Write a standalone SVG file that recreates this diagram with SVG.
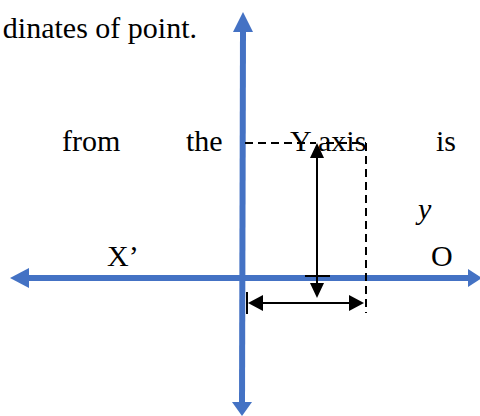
<svg xmlns="http://www.w3.org/2000/svg" width="480" height="416" viewBox="0 0 480 416">
<style>
.t{font-family:"Liberation Serif","Times New Roman",serif;font-size:30px;fill:#000}
.ax{stroke:#4472C4;stroke-width:6;fill:none}
.ah{fill:#4472C4}
.bk{stroke:#000;stroke-width:2;fill:none}
.ds{stroke:#000;stroke-width:2;fill:none;stroke-dasharray:8 5}
.bh{fill:#000}
</style>
<rect width="480" height="416" fill="#fff"/>
<g id="labels">
<text class="t" x="197" y="38" text-anchor="end">dinates of point.</text>
<text class="t" x="62" y="151">from</text>
<text class="t" x="186" y="151">the</text>
<text class="t" x="436" y="151">is</text>
<text class="t" x="418" y="219" font-style="italic">y</text>
<text class="t" x="107" y="266">X’</text>
<text class="t" x="431" y="266">O</text>
</g>
<g id="axes">
<line class="ax" x1="243" y1="30" x2="242" y2="404"/>
<polygon class="ah" points="243,12 233,32 253,32"/>
<polygon class="ah" points="242,416 232,402 252,402"/>
<line class="ax" x1="28" y1="278" x2="472" y2="278"/>
<polygon class="ah" points="10,278 29,268 29,288"/>
<polygon class="ah" points="482,278 468,269 468,287"/>
</g>
<g id="connectors">
<line class="ds" x1="245" y1="143" x2="316" y2="143"/>
<line class="ds" x1="326" y1="143" x2="366" y2="143"/>
<line class="ds" x1="366" y1="143" x2="366" y2="313"/>
<line class="bk" x1="317" y1="155" x2="317" y2="286"/>
<polygon class="bh" points="317,143 310,158 324,158"/>
<polygon class="bh" points="317,298 310,283 324,283"/>
<line class="bk" x1="305" y1="276" x2="330" y2="276"/>
<line class="bk" x1="258" y1="303" x2="354" y2="303"/>
<polygon class="bh" points="248,303 263,295 263,311"/>
<polygon class="bh" points="364,303 349,295 349,311"/>
<line class="bk" x1="247" y1="292" x2="247" y2="314"/>
</g>
<text class="t" x="290" y="151">Y axis</text>
</svg>
